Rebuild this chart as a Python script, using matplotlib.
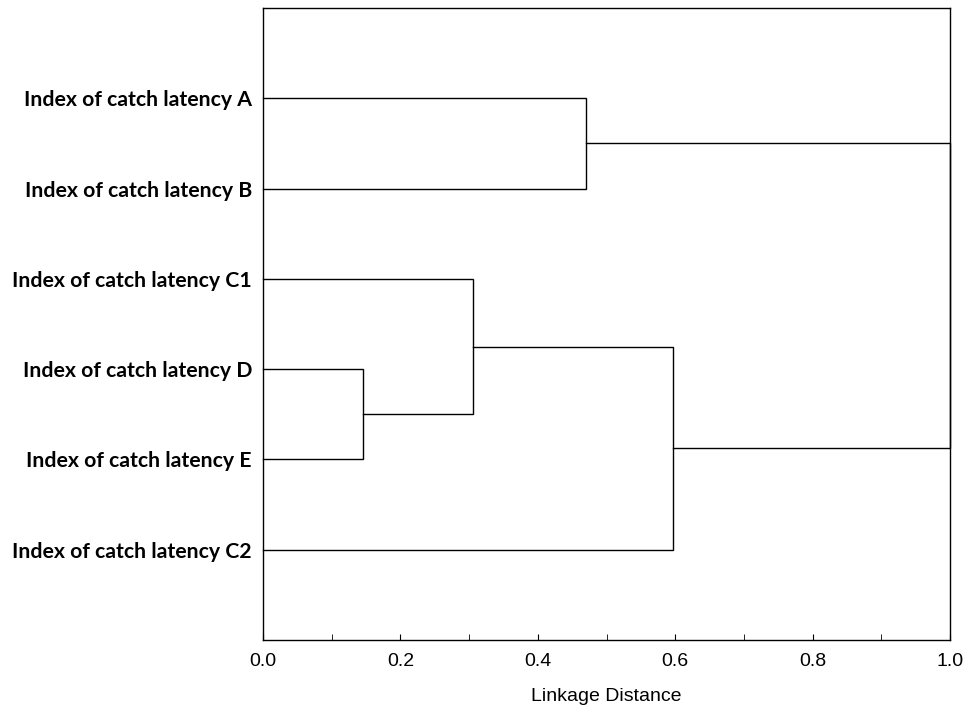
import numpy as np
import matplotlib.pyplot as plt
from matplotlib.ticker import MultipleLocator

# leaves, top to bottom
leaf_labels = ['Index of catch latency A', 'Index of catch latency B',
               'Index of catch latency C1', 'Index of catch latency D',
               'Index of catch latency E', 'Index of catch latency C2']

# merges: (left cluster, right cluster, linkage distance)
# clusters 0..5 are leaves, new clusters numbered from 6
merge_left = [3, 2, 7, 0, 9]
merge_right = [4, 6, 5, 1, 8]
merge_dist = [0.145, 0.306, 0.597, 0.470, 1.0]

fig = plt.figure(figsize=(9.76, 7.09), dpi=100)
ax = fig.add_axes([0.2695, 0.0973, 0.9734 - 0.2695, 0.9887 - 0.0973])

# position of each cluster: (y, x)
pos = {i: (i + 1, 0.0) for i in range(len(leaf_labels))}
for k in range(len(merge_dist)):
    y1, x1 = pos[merge_left[k]]
    y2, x2 = pos[merge_right[k]]
    d = merge_dist[k]
    ax.plot([x1, d, d, x2], [y1, y1, y2, y2], color='black', lw=1.0,
            solid_joinstyle='miter', clip_on=False)
    pos[len(leaf_labels) + k] = ((y1 + y2) / 2.0, d)

ax.set_xlim(0, 1.0)
ax.set_ylim(7, 0)
ax.set_yticks(range(1, len(leaf_labels) + 1))
ax.set_yticklabels(leaf_labels, fontfamily='Lato', fontweight='bold', fontsize=15.3)
ax.tick_params(axis='y', length=0, pad=8)

ax.xaxis.set_major_locator(MultipleLocator(0.2))
ax.xaxis.set_minor_locator(MultipleLocator(0.1))
ax.tick_params(axis='x', which='both', direction='in', length=4, labelsize=14, pad=9)
for t in ax.get_xticklabels():
    t.set_fontfamily('Liberation Sans')
ax.set_xlabel('Linkage Distance', fontfamily='Liberation Sans', fontsize=14, labelpad=13)

for s in ax.spines.values():
    s.set_linewidth(1.0)

fig.savefig('out.png', dpi=100)
